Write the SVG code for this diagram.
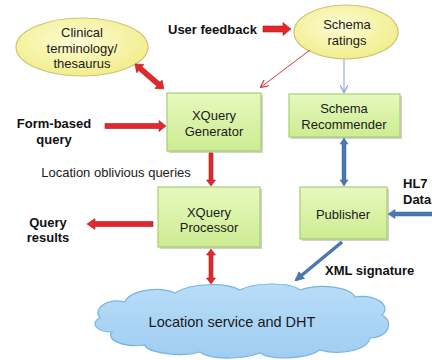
<svg xmlns="http://www.w3.org/2000/svg" width="432" height="360" viewBox="0 0 432 360">
<defs>
<linearGradient id="gBox" x1="0" y1="0" x2="0" y2="1">
<stop offset="0" stop-color="#e6f9bd"/><stop offset="1" stop-color="#cdec92"/>
</linearGradient>
<radialGradient id="gEll" cx="0.45" cy="0.4" r="0.65">
<stop offset="0" stop-color="#fdfcd6"/><stop offset="1" stop-color="#f1ec86"/>
</radialGradient>
<linearGradient id="gCloud" x1="0" y1="0" x2="0" y2="1">
<stop offset="0" stop-color="#b8ddf8"/><stop offset="1" stop-color="#9fcdf2"/>
</linearGradient>
<marker id="mRed" viewBox="0 0 10 10" refX="9" refY="5" markerWidth="8" markerHeight="8" orient="auto" markerUnits="userSpaceOnUse">
<path d="M0,0 L10,5 L0,10" fill="none" stroke="#d9383a" stroke-width="1.5"/>
</marker>
<marker id="mBlue" viewBox="0 0 10 10" refX="9" refY="5" markerWidth="8" markerHeight="8" orient="auto" markerUnits="userSpaceOnUse">
<path d="M0,0 L10,5 L0,10" fill="none" stroke="#7fa3d4" stroke-width="1.5"/>
</marker>
<marker id="mBlueSolid" viewBox="0 0 10 10" refX="8" refY="5" markerWidth="10" markerHeight="10" orient="auto" markerUnits="userSpaceOnUse">
<path d="M0,0 L10,5 L0,10 Z" fill="#4a78b4"/>
</marker>
</defs>
<style>
.box{fill:url(#gBox);stroke:#a8cd72;stroke-width:1.2}
.shadow{fill:#000;opacity:0.18}
.ell{fill:url(#gEll);stroke:#cbc374;stroke-width:1.2}
.t{font-family:"Liberation Sans",Arial,sans-serif;font-size:13px;fill:#1a1a1a;text-anchor:middle}
.b{font-family:"Liberation Sans",Arial,sans-serif;font-size:13px;font-weight:bold;fill:#111}
.ra{fill:#e2282c;stroke:#b01c20;stroke-width:0.6}
.ba{fill:#4a78b4;stroke:#3d679e;stroke-width:0.5}
</style>

<g id="clinical">
<ellipse class="ell" cx="82" cy="47" rx="66" ry="29"/>
<text class="t" x="82" y="37">Clinical</text>
<text class="t" x="82" y="53">terminology/</text>
<text class="t" x="82" y="68">thesaurus</text>
</g>

<g id="user-feedback">
<text class="b" x="168" y="34">User feedback</text>
</g>

<g id="schema-ratings">
<ellipse class="ell" cx="346" cy="32" rx="52" ry="27"/>
<text class="t" x="347" y="29">Schema</text>
<text class="t" x="347" y="45">ratings</text>
</g>

<g id="xquery-generator">
<rect class="shadow" x="169" y="95" width="94" height="58"/>
<rect class="box" x="167" y="93" width="94" height="58"/>
<text class="t" x="214" y="120">XQuery</text>
<text class="t" x="214" y="136">Generator</text>
</g>

<g id="schema-recommender">
<rect class="shadow" x="291" y="96" width="111" height="43"/>
<rect class="box" x="289" y="94" width="111" height="43"/>
<text class="t" x="344" y="113">Schema</text>
<text class="t" x="344" y="129">Recommender</text>
</g>

<g id="form-based-query">
<text class="b" x="54" y="128" text-anchor="middle">Form-based</text>
<text class="b" x="54" y="144" text-anchor="middle">query</text>
</g>

<g id="location-oblivious">
<text class="t" x="116" y="177">Location oblivious queries</text>
</g>

<g id="xquery-processor">
<rect class="shadow" x="160" y="189" width="102" height="60"/>
<rect class="box" x="158" y="187" width="102" height="60"/>
<text class="t" x="209" y="217">XQuery</text>
<text class="t" x="209" y="232">Processor</text>
</g>

<g id="query-results">
<text class="b" x="48" y="227" text-anchor="middle">Query</text>
<text class="b" x="48" y="242" text-anchor="middle">results</text>
</g>

<g id="publisher">
<rect class="shadow" x="302" y="189" width="87" height="52"/>
<rect class="box" x="300" y="187" width="87" height="52"/>
<text class="t" x="343" y="219">Publisher</text>
</g>

<g id="hl7-data">
<text class="b" x="403" y="188">HL7</text>
<text class="b" x="403" y="204">Data</text>
</g>

<g id="xml-signature">
<text class="b" x="325" y="275">XML signature</text>
</g>

<g id="cloud">
<path d="M100,318 C92,308 108,298 125,302 C130,290 160,286 175,293 C190,283 225,282 240,290 C255,282 290,282 300,290 C320,283 350,287 355,297 C375,294 392,305 382,315 C395,322 388,338 370,338 C368,350 340,356 320,350 C305,360 270,360 260,353 C240,360 210,360 200,352 C180,358 145,352 145,345 C125,348 105,340 112,332 C95,332 90,322 100,318 Z" fill="url(#gCloud)" stroke="#78b4e2" stroke-width="1.2"/>
<text class="t" x="232" y="327" style="font-size:14.5px">Location service and DHT</text>
</g>

<g id="connectors">
<polygon class="ra" transform="translate(105,126)" points="0,-2.5 54,-2.5 54,-5.5 61,0 54,5.5 54,2.5 0,2.5"/>
<polygon class="ra" transform="translate(263,29)" points="0,-3 20,-3 20,-6.5 28,0 20,6.5 20,3 0,3"/>
<polygon class="ra" transform="translate(211,153) rotate(90)" points="0,-2 27,-2 27,-4.5 33,0 27,4.5 27,2 0,2"/>
<polygon class="ra" transform="translate(153,224) rotate(180)" points="0,-2.5 58,-2.5 58,-5.5 66,0 58,5.5 58,2.5 0,2.5"/>
<polygon class="ra" transform="translate(135,64) rotate(40.8)" points="0,0 7,-5.5 7,-2.5 31,-2.5 31,-5.5 38,0 31,5.5 31,2.5 7,2.5 7,5.5"/>
<polygon class="ra" transform="translate(211,249) rotate(90)" points="0,0 6,-4.5 6,-2 29,-2 29,-4.5 35,0 29,4.5 29,2 6,2 6,4.5"/>
<polygon class="ba" transform="translate(344,138) rotate(90)" points="0,0 6,-4 6,-2 42,-2 42,-4 48,0 42,4 42,2 6,2 6,4"/>
<polygon class="ba" transform="translate(432,214) rotate(180)" points="0,-2 37,-2 37,-4.5 44,0 37,4.5 37,2 0,2"/>
<line x1="342" y1="242" x2="296" y2="280" stroke="#4a78b4" stroke-width="3.5" marker-end="url(#mBlueSolid)"/>
<line x1="310" y1="50" x2="261" y2="87" stroke="#d9383a" stroke-width="1" marker-end="url(#mRed)"/>
<line x1="344" y1="59" x2="344" y2="92" stroke="#7fa3d4" stroke-width="1" marker-end="url(#mBlue)"/>
</g>
</svg>
